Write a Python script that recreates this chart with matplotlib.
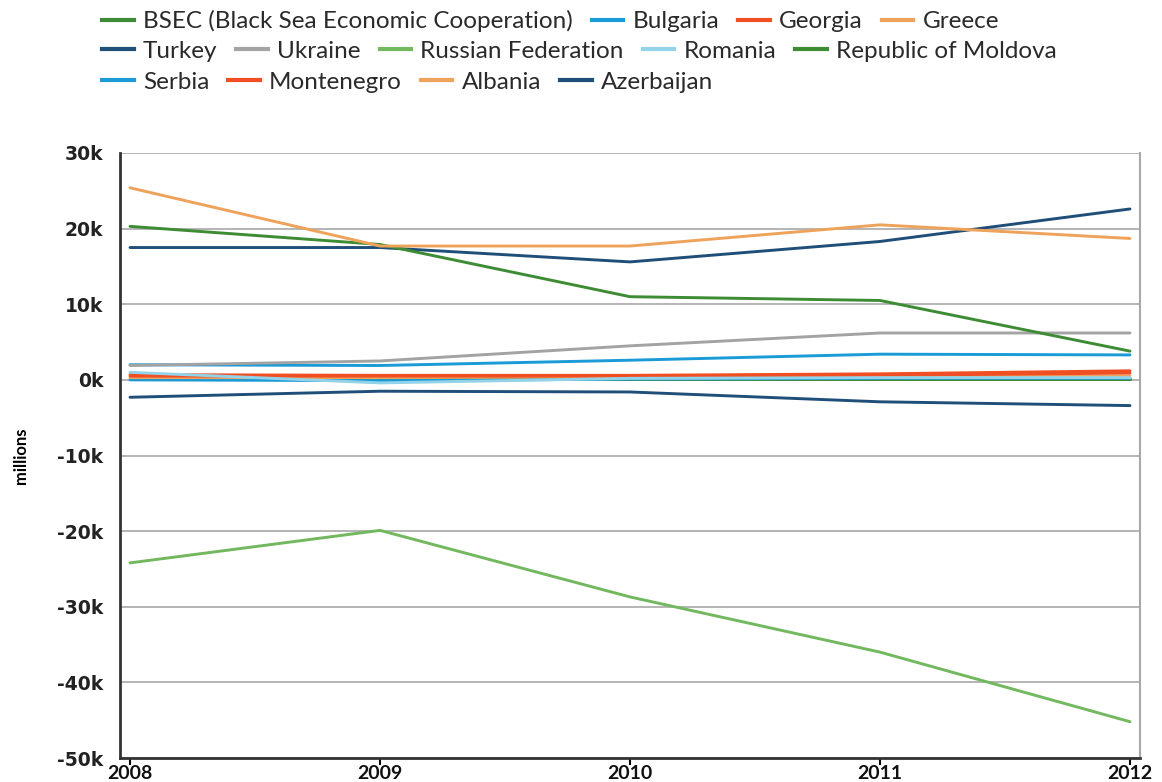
import matplotlib
matplotlib.use("Agg")
import matplotlib.pyplot as plt
from matplotlib.lines import Line2D

years = [2008, 2009, 2010, 2011, 2012]

# values in millions
bsec = [20300, 17900, 11000, 10500, 3800]
bulgaria = [2000, 1900, 2600, 3400, 3300]
georgia = [700, 600, 600, 800, 1200]
greece = [25400, 17700, 17700, 20500, 18700]
turkey = [17500, 17500, 15600, 18300, 22600]
ukraine = [1900, 2500, 4500, 6200, 6200]
russia = [-24200, -19900, -28700, -36000, -45200]
romania = [1000, -400, 200, 300, 300]
moldova = [100, 100, 100, 100, 100]
serbia = [0, -100, 100, 200, 200]
montenegro = [500, 500, 500, 600, 900]
albania = [300, 300, 400, 400, 500]
azerbaijan = [-2300, -1500, -1600, -2900, -3400]

names = ["BSEC (Black Sea Economic Cooperation)", "Bulgaria", "Georgia", "Greece",
         "Turkey", "Ukraine", "Russian Federation", "Romania", "Republic of Moldova",
         "Serbia", "Montenegro", "Albania", "Azerbaijan"]
series = [bsec, bulgaria, georgia, greece, turkey, ukraine, russia, romania,
          moldova, serbia, montenegro, albania, azerbaijan]

green = "#3d8b32"
blue = "#1a9ad6"
red = "#f04e23"
orange = "#eea25a"
navy = "#1f4e79"
colors = [green, blue, red, orange, navy, "#a3a3a3", "#72b85e", "#93d3ea",
          green, blue, red, orange, navy]

fig = plt.figure(figsize=(11.62, 7.82), dpi=100)
ax = fig.add_axes([120 / 1162, 1 - 758 / 782, 1020 / 1162, 605 / 782])

# draw bottom-up so the big ones sit on top like the reference
order = [8, 9, 11, 10, 2, 7, 1, 5, 12, 6, 4, 0, 3]
for i in order:
    ax.plot(years, series[i], color=colors[i], lw=2.1, solid_capstyle="round")

ax.set_xlim(2007.96, 2012.04)
ax.set_ylim(-50000, 30000)
ax.set_yticks(range(-50000, 30001, 10000))
ax.set_yticklabels([f"{v // 1000}k" for v in range(-50000, 30001, 10000)],
                   fontsize=13.5, fontweight="bold", color="#222222")
ax.set_xticks(years)
ax.set_xticklabels([str(y) for y in years], fontsize=14, fontweight="bold",
                   family="Lato", color="#111111")
ax.tick_params(axis="y", length=0, pad=12)
ax.tick_params(axis="x", length=5, width=1.5, direction="out", pad=0)
ax.grid(axis="y", color="#a8a8a8", lw=1.2)
ax.set_axisbelow(True)
for s in ["left", "bottom"]:
    ax.spines[s].set_linewidth(2)
    ax.spines[s].set_color("#333333")
ax.spines["right"].set_color("#a8a8a8")
ax.spines["right"].set_linewidth(1.5)
ax.spines["top"].set_visible(False)
ax.set_ylabel("millions", fontsize=12, fontweight="bold", family="Lato",
              labelpad=20)

# legend: three rows, filled left to right
rows = [[0, 1, 2, 3], [4, 5, 6, 7, 8], [9, 10, 11, 12]]
row_y = [1 - 21 / 782, 1 - 51 / 782, 1 - 82 / 782]
for r, ypos in zip(rows, row_y):
    handles = [Line2D([], [], color=colors[i], lw=3) for i in r]
    leg = fig.legend(handles, [names[i] for i in r], ncol=len(r),
                     loc="center left", bbox_to_anchor=(102 / 1162, ypos),
                     frameon=False, handlelength=1.3, handletextpad=0.38,
                     columnspacing=0.78, borderaxespad=0, borderpad=0,
                     prop={"family": "Lato", "size": 17.5})
    for t in leg.get_texts():
        t.set_color("#2a2a2a")

fig.savefig("out.png", dpi=100)
